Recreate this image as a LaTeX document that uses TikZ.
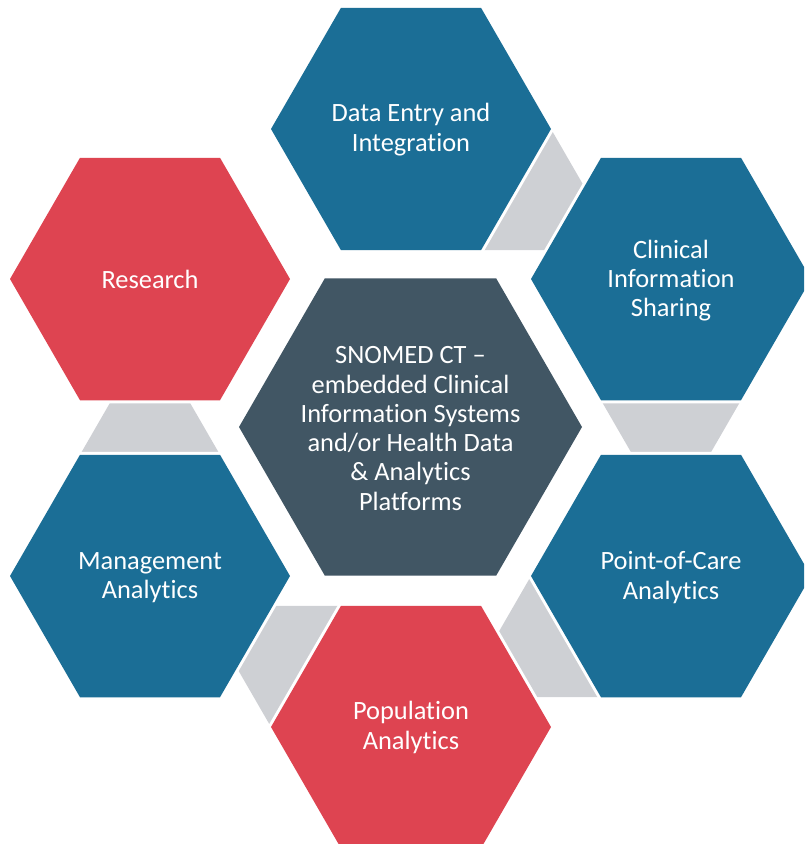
\documentclass[tikz,border=0pt]{standalone}
\usepackage{fontspec}
\setmainfont[RawFeature={-liga;-clig;-dlig;-calt;-rlig}]{Carlito}
\definecolor{hexblue}{RGB}{27,110,150}
\definecolor{hexred}{RGB}{222,68,81}
\definecolor{hexdark}{RGB}{65,86,100}
\definecolor{linkgray}{RGB}{206,208,212}
\newcommand\hexat[3]{({#1+#3},{#2}) -- ({#1+#3/2},{#2+0.8660254*#3}) -- ({#1-#3/2},{#2+0.8660254*#3}) -- ({#1-#3},{#2}) -- ({#1-#3/2},{#2-0.8660254*#3}) -- ({#1+#3/2},{#2-0.8660254*#3}) -- cycle}
\tikzset{
  hexfill/.style={fill=#1, preaction={draw=white, line width=6pt, line join=miter}},
  link/.style={fill=linkgray},
  lbl/.style={text=white, align=center, inner sep=0pt, font=\fontsize{26.4}{29.3}\selectfont}
}
\begin{document}
\begin{tikzpicture}[x=1pt,y=-1pt]
\useasboundingbox (0,0) rectangle (804,844);
\clip (0,0) rectangle (804,844);
% connecting pieces
\fill[link] (551,129) -- (621,250.24) -- (481,250.24) -- cycle;
\fill[link] (601,400.24) -- (741,400.24) -- (671,521.5) -- cycle;
\fill[link] (531,576) -- (601,697.24) -- (461,697.24) -- cycle;
\fill[link] (341,605.76) -- (271,727) -- (201,605.76) -- cycle;
\fill[link] (80,454.76) -- (220,454.76) -- (150,333.5) -- cycle;
% hexagons
\path[hexfill=hexblue] \hexat{411}{129}{140};
\path[hexfill=hexblue] \hexat{671}{279}{140};
\path[hexfill=hexblue] \hexat{671}{576}{140};
\path[hexfill=hexred] \hexat{411}{727}{140};
\path[hexfill=hexblue] \hexat{150}{576}{140};
\path[hexfill=hexred] \hexat{150}{279}{140};
\path[hexfill=hexdark] \hexat{410.5}{427}{171.5};
% labels
\node[lbl] (t) at (411,129.5) {Data Entry and\\Integration};
\node[lbl] (c) at (671,280.5) {Clinical\\Information\\Sharing};
\node[lbl] (p) at (671,577.5) {Point-of-Care\\Analytics};
\node[lbl] (pop) at (411,727.5) {Population\\Analytics};
\node[lbl] (m) at (150,577.5) {Management\\Analytics};
\node[lbl] (r) at (150,279.5) {Research};
\node[lbl] (s) at (410.5,428.5) {SNOMED CT –\\embedded Clinical\\Information Systems\\and/or Health Data\\\& Analytics\\Platforms};
\end{tikzpicture}
\end{document}
